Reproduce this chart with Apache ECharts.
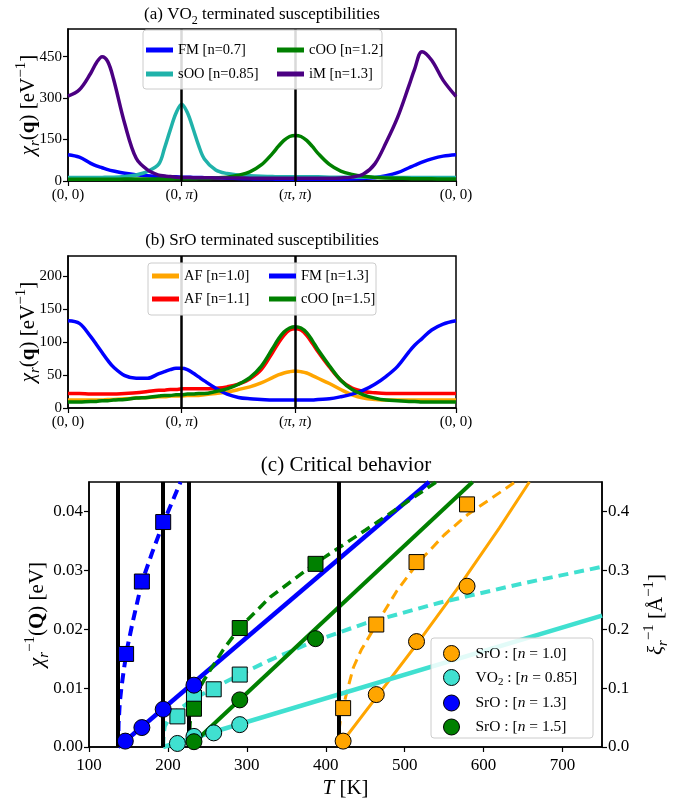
<!DOCTYPE html>
<html>
<head>
<meta charset="utf-8">
<script src="https://cdn.jsdelivr.net/npm/echarts@6/dist/echarts.min.js"></script>
<style>
  html, body { margin: 0; background: #fff; }
  #main { width: 689px; height: 804px; }
</style>
</head>
<body>
<div id="main"></div>
<script>
const F = 'Liberation Serif';

// k-path positions: (0,0) -> (0,pi) -> (pi,pi) -> (0,0), segment lengths 1, 1, sqrt(2)
const kPath = [0, 0.1, 0.2, 0.25, 0.3, 0.35, 0.4, 0.5, 0.6, 0.7, 0.8, 0.85, 0.9, 0.95,
  1.0, 1.05, 1.1, 1.15, 1.2, 1.3, 1.4, 1.5, 1.6, 1.7, 1.8, 1.85, 1.9, 1.95,
  2.0, 2.05, 2.1, 2.15, 2.2, 2.3, 2.4, 2.5, 2.6, 2.7, 2.8, 2.9, 3.0, 3.05, 3.115, 3.2, 3.3, 3.414];
const kTicks = [0, 1, 2, 3.414];
const kLabels = ['(0, 0)', '(0, π)', '(π, π)', '(0, 0)'];

// (a) VO2 terminated
const vo2FM  = [95, 86, 64, 55, 48, 41, 36, 28, 23, 19, 17, 16, 15, 15, 14, 14, 13, 13, 12, 11, 10, 9, 8, 7, 7, 6, 6, 6,
  6, 6, 6, 6, 6, 6, 6, 7, 9, 12, 19, 30, 48, 57, 68, 80, 90, 95];
const vo2sOO = [13, 13, 13, 13, 13, 14, 14, 16, 22, 35, 62, 120, 185, 245, 278, 248, 190, 128, 80, 40, 27, 22, 19, 17, 16, 15, 15, 15,
  15, 15, 15, 15, 15, 14, 14, 14, 14, 14, 13, 13, 13, 13, 13, 13, 13, 13];
const vo2cOO = [6, 6, 6, 6, 6, 6, 6, 7, 7, 7, 7, 7, 7, 8, 8, 8, 8, 9, 9, 11, 14, 21, 33, 58, 100, 125, 147, 161,
  165, 161, 147, 125, 100, 60, 36, 24, 17, 13, 11, 10, 9, 8, 8, 8, 7, 7];
const vo2iM  = [307, 330, 390, 428, 450, 432, 370, 206, 82, 40, 21, 18, 16, 14, 13, 13, 12, 12, 12, 11, 11, 11, 10, 10, 10, 10, 10, 10,
  10, 10, 10, 10, 10, 10, 11, 14, 25, 62, 140, 230, 345, 405, 468, 437, 365, 306];

// (b) SrO terminated
const srAF10 = [12, 12, 12, 12, 12, 13, 13, 14, 15, 16, 17, 17, 18, 18, 18, 19, 19, 19, 20, 22, 24, 28, 32, 38, 46, 50, 53, 55,
  56, 55, 53, 49, 45, 37, 28, 20, 15, 13, 12, 12, 12, 12, 12, 12, 12, 12];
const srAF11 = [22, 22, 21, 21, 21, 21, 21, 22, 23, 25, 27, 27, 28, 28, 29, 29, 29, 29, 29, 30, 32, 36, 44, 58, 84, 98, 110, 118,
  120, 118, 110, 98, 85, 62, 42, 30, 25, 23, 22, 22, 22, 22, 22, 22, 22, 22];
const srFM   = [132, 128, 108, 96, 84, 72, 62, 49, 45, 45, 52, 55, 58, 60, 60, 58, 53, 47, 41, 30, 21, 16, 14, 13, 12, 12, 12, 12,
  12, 12, 12, 12, 13, 14, 17, 21, 27, 36, 48, 63, 85, 95, 105, 118, 127, 132];
const srCOO  = [9, 9, 10, 10, 11, 11, 12, 13, 15, 16, 18, 19, 19, 20, 20, 21, 21, 22, 22, 25, 29, 36, 46, 63, 90, 104, 115, 121,
  123, 121, 114, 102, 88, 64, 42, 28, 20, 15, 12, 11, 10, 10, 9, 9, 9, 9];

// (c) critical behaviour: transition temperatures, points and fits
const tcLines = [137, 194, 227, 416];

const sr10T = [422, 464, 515, 579];
const sr10Chi = [0.0010, 0.0089, 0.0179, 0.0273];
const sr10Xi = [0.066, 0.208, 0.314, 0.412];
const sr10ChiFitT = [416, 470, 520, 570, 620, 658];
const sr10ChiFit = [0, 0.0095, 0.0183, 0.0275, 0.0372, 0.045];
const sr10XiFitT = [416, 417, 419, 422, 428, 435, 445, 464, 490, 515, 550, 580, 640];
const sr10XiFit = [0, 0.03, 0.05, 0.068, 0.1, 0.135, 0.165, 0.208, 0.265, 0.31, 0.36, 0.395, 0.45];

const vo2T = [212, 233, 258, 291];
const vo2Chi = [0.0006, 0.0018, 0.0024, 0.0038];
const vo2Xi = [0.052, 0.084, 0.098, 0.123];
const vo2ChiFitT = [194, 750];
const vo2ChiFit = [0, 0.0223];
const vo2XiFitT = [194, 194.5, 196, 200, 212, 233, 258, 291, 330, 386, 450, 544, 650, 750];
const vo2XiFit = [0, 0.02, 0.035, 0.045, 0.062, 0.082, 0.1, 0.123, 0.148, 0.18, 0.21, 0.245, 0.278, 0.306];

const sr13T = [146, 167, 194, 233];
const sr13Chi = [0.0010, 0.0033, 0.0064, 0.0105];
const sr13XiT = [147, 167, 194];
const sr13Xi = [0.158, 0.281, 0.382];
const sr13ChiFitT = [137, 531];
const sr13ChiFit = [0, 0.045];
const sr13XiFitT = [137, 137.5, 139, 141, 144, 148, 155, 167, 180, 194, 205, 216];
const sr13XiFit = [0, 0.04, 0.075, 0.1, 0.13, 0.165, 0.21, 0.28, 0.33, 0.38, 0.415, 0.45];

const sr15T = [233, 291, 387];
const sr15Chi = [0.0009, 0.0080, 0.0184];
const sr15Xi = [0.065, 0.202, 0.311];
const sr15ChiFitT = [227, 586];
const sr15ChiFit = [0, 0.045];
const sr15XiFitT = [227, 228, 231, 236, 245, 252, 270, 291, 330, 387, 450, 540];
const sr15XiFit = [0, 0.04, 0.07, 0.09, 0.112, 0.127, 0.165, 0.203, 0.255, 0.312, 0.368, 0.45];

const zip = (xs, ys) => xs.map((x, i) => [x, ys[i]]);

// rich text styles; titles use size 17, axis names size 21
function richSet(size) {
  const sub = Math.round(size * 0.7);
  const lh = Math.round(size * 1.4);
  return {
    n: {fontFamily: F, fontSize: size, color: '#000', lineHeight: lh},
    i: {fontFamily: F, fontSize: size, color: '#000', fontStyle: 'italic', lineHeight: lh},
    b: {fontFamily: F, fontSize: size, color: '#000', fontWeight: 'bold', lineHeight: lh},
    sb: {fontFamily: F, fontSize: sub, color: '#000', fontStyle: 'italic', lineHeight: sub, verticalAlign: 'bottom'},
    s2: {fontFamily: F, fontSize: sub, color: '#000', lineHeight: sub, verticalAlign: 'bottom'},
    sp: {fontFamily: F, fontSize: sub, color: '#000', lineHeight: sub, verticalAlign: 'top'}
  };
}
const richTitle = richSet(17);
const richBig = richSet(21);
const richTick = {
  pi: {fontFamily: F, fontSize: 15, color: '#000', fontStyle: 'italic'},
  t: {fontFamily: F, fontSize: 15, color: '#000'}
};

function ax(o) {
  return Object.assign({nameMoveOverlap: false}, o, {
    axisLine: Object.assign({show: true, onZero: false, lineStyle: {color: '#000', width: 1.5}}, o.axisLine),
    axisTick: Object.assign({show: true, length: 5, lineStyle: {color: '#000', width: 1.2}}, o.axisTick),
    axisLabel: Object.assign({color: '#000', fontFamily: F, fontSize: 15, margin: 6}, o.axisLabel),
    splitLine: {show: false}
  });
}

function kFormatter(v) {
  let idx = 0;
  kTicks.forEach((t, i) => { if (Math.abs(t - v) < Math.abs(kTicks[idx] - v)) idx = i; });
  return '{t|' + kLabels[idx].split('π').join('}{pi|π}{t|') + '}';
}

function curve(name, ai, kv, color) {
  return {
    name: name, type: 'line', xAxisIndex: ai, yAxisIndex: ai,
    data: zip(kPath, kv), showSymbol: false, smooth: 0.35,
    lineStyle: {color: color, width: 3.5}, itemStyle: {color: color}, z: 3
  };
}

function vLines(xi, yi, xs, width) {
  return {
    type: 'line', xAxisIndex: xi, yAxisIndex: yi, data: [], z: 4, silent: true,
    markLine: {
      silent: true, symbol: 'none', label: {show: false}, animation: false,
      lineStyle: {color: '#000', width: width, type: 'solid'},
      data: xs.map(x => ({xAxis: x}))
    }
  };
}

function fit(T, v, color, dashed, width, yi) {
  return {
    type: 'line', xAxisIndex: 2, yAxisIndex: yi, data: zip(T, v), showSymbol: false,
    lineStyle: {color: color, width: width, type: dashed ? [10, 6] : 'solid'}, z: 3, silent: true
  };
}

function pts(name, T, v, color, symbol, yi) {
  return {
    name: name, type: 'scatter', xAxisIndex: 2, yAxisIndex: yi, data: zip(T, v),
    symbol: symbol, symbolSize: symbol === 'circle' ? 16 : 15,
    itemStyle: {color: color, borderColor: '#000', borderWidth: 1, opacity: 1}, z: 10
  };
}

const ORANGE = '#FFA500', TURQ = '#40E0D0', BLUE = '#0000FF', GREEN = '#008000';

const legendC = {
  'SrO n=1.0': '{a|SrO : [}{ii|n}{a| = 1.0]}',
  'VO2 n=0.85': '{a|VO}{s|2}{a| : [}{ii|n}{a| = 0.85]}',
  'SrO n=1.3': '{a|SrO : [}{ii|n}{a| = 1.3]}',
  'SrO n=1.5': '{a|SrO : [}{ii|n}{a| = 1.5]}'
};

const legendText = {color: '#000', fontFamily: F, fontSize: 14.5, lineHeight: 18};
const gridBase = {show: true, borderColor: '#000', borderWidth: 1.5, containLabel: false, outerBoundsMode: 'none'};

const option = {
  animation: false,
  backgroundColor: '#fff',
  grid: [
    Object.assign({left: 68, top: 29, width: 388, height: 152}, gridBase),
    Object.assign({left: 68, top: 256, width: 388, height: 152}, gridBase),
    Object.assign({left: 89, top: 482, width: 513, height: 265}, gridBase)
  ],
  xAxis: [
    ax({gridIndex: 0, type: 'value', min: 0, max: 3.414,
      axisTick: {customValues: kTicks}, axisLabel: {customValues: kTicks, formatter: kFormatter, rich: richTick, margin: 7}}),
    ax({gridIndex: 1, type: 'value', min: 0, max: 3.414,
      axisTick: {customValues: kTicks}, axisLabel: {customValues: kTicks, formatter: kFormatter, rich: richTick, margin: 7}}),
    ax({gridIndex: 2, type: 'value', min: 100, max: 750,
      axisTick: {customValues: [100, 200, 300, 400, 500, 600, 700]},
      axisLabel: {customValues: [100, 200, 300, 400, 500, 600, 700], margin: 10, fontSize: 17},
      name: '{i|T}{n| [K]}', nameLocation: 'middle', nameGap: 27, nameTextStyle: {rich: richBig}})
  ],
  yAxis: [
    ax({gridIndex: 0, type: 'value', min: 0, max: 550,
      axisTick: {customValues: [0, 150, 300, 450]}, axisLabel: {customValues: [0, 150, 300, 450]},
      name: '{i|χ}{sb|r}{n|(}{b|q}{n|) [eV}{sp|−1}{n|]}', nameLocation: 'middle', nameGap: 25, nameRotate: 90,
      nameTextStyle: {rich: richBig}}),
    ax({gridIndex: 1, type: 'value', min: 0, max: 230,
      axisTick: {customValues: [0, 50, 100, 150, 200]}, axisLabel: {customValues: [0, 50, 100, 150, 200]},
      name: '{i|χ}{sb|r}{n|(}{b|q}{n|) [eV}{sp|−1}{n|]}', nameLocation: 'middle', nameGap: 25, nameRotate: 90,
      nameTextStyle: {rich: richBig}}),
    ax({gridIndex: 2, type: 'value', min: 0, max: 0.045,
      axisTick: {customValues: [0, 0.01, 0.02, 0.03, 0.04]},
      axisLabel: {customValues: [0, 0.01, 0.02, 0.03, 0.04], formatter: v => v.toFixed(2), fontSize: 17},
      name: '{i|χ}{sb|r}{sp|−1}{n|(}{b|Q}{n|) [eV]}', nameLocation: 'middle', nameGap: 37, nameRotate: 90,
      nameTextStyle: {rich: richBig}}),
    ax({gridIndex: 2, type: 'value', position: 'right', min: 0, max: 0.45,
      axisTick: {customValues: [0, 0.1, 0.2, 0.3, 0.4]},
      axisLabel: {customValues: [0, 0.1, 0.2, 0.3, 0.4], formatter: v => v.toFixed(1), fontSize: 17},
      name: '{i|ξ}{sb|r}{sp|−1}{n| [Å}{sp|−1}{n|]}', nameLocation: 'middle', nameGap: 40, nameRotate: 90,
      nameTextStyle: {rich: richBig}})
  ],
  legend: [
    {data: ['FM [n=0.7]', 'sOO [n=0.85]'], left: 141, top: 36, orient: 'vertical', icon: 'rect',
      itemWidth: 27, itemHeight: 5, itemGap: 6, textStyle: legendText, z: 60},
    {data: ['cOO [n=1.2]', 'iM [n=1.3]'], left: 272, top: 36, orient: 'vertical', icon: 'rect',
      itemWidth: 27, itemHeight: 5, itemGap: 6, textStyle: legendText, z: 60},
    {data: ['AF [n=1.0]', 'AF [n=1.1]'], left: 147, top: 262, orient: 'vertical', icon: 'rect',
      itemWidth: 27, itemHeight: 5, itemGap: 5, textStyle: legendText, z: 60},
    {data: ['FM [n=1.3]', 'cOO [n=1.5]'], left: 264, top: 262, orient: 'vertical', icon: 'rect',
      itemWidth: 27, itemHeight: 5, itemGap: 5, textStyle: legendText, z: 60},
    {data: Object.keys(legendC).map(n => ({name: n, itemStyle: {borderColor: '#000', borderWidth: 1}})),
      left: 438, top: 640, orient: 'vertical', icon: 'circle', itemWidth: 38, itemHeight: 16, itemGap: 7,
      formatter: n => legendC[n],
      textStyle: {rich: {
        a: {fontFamily: F, fontSize: 15.5, color: '#000', lineHeight: 20},
        ii: {fontFamily: F, fontSize: 15.5, color: '#000', fontStyle: 'italic', lineHeight: 20},
        s: {fontFamily: F, fontSize: 11, color: '#000', lineHeight: 11, verticalAlign: 'bottom'}
      }}, z: 60}
  ],
  graphic: [
    {type: 'rect', shape: {x: 143, y: 30, width: 239, height: 59, r: 3}, z: 50,
      style: {fill: 'rgba(255,255,255,0.85)', stroke: '#cccccc', lineWidth: 1}},
    {type: 'rect', shape: {x: 148, y: 263, width: 228, height: 52, r: 3}, z: 50,
      style: {fill: 'rgba(255,255,255,0.85)', stroke: '#cccccc', lineWidth: 1}},
    {type: 'rect', shape: {x: 431, y: 638, width: 162, height: 100, r: 3}, z: 50,
      style: {fill: 'rgba(255,255,255,0.85)', stroke: '#cccccc', lineWidth: 1}},
    {type: 'text', x: 262, y: 15, z: 50,
      style: {text: '{n|(a) VO}{s2|2}{n| terminated susceptibilities}', align: 'center', verticalAlign: 'middle', rich: richTitle}},
    {type: 'text', x: 262, y: 241, z: 50,
      style: {text: '{n|(b) SrO terminated susceptibilities}', align: 'center', verticalAlign: 'middle', rich: richTitle}},
    {type: 'text', x: 346, y: 465, z: 50,
      style: {text: '{n|(c) Critical behavior}', align: 'center', verticalAlign: 'middle', rich: richBig}}
  ],
  series: [
    curve('FM [n=0.7]', 0, vo2FM, BLUE),
    curve('sOO [n=0.85]', 0, vo2sOO, '#20B2AA'),
    curve('cOO [n=1.2]', 0, vo2cOO, GREEN),
    curve('iM [n=1.3]', 0, vo2iM, '#4B0082'),
    vLines(0, 0, [1, 2], 2.5),

    curve('AF [n=1.0]', 1, srAF10, ORANGE),
    curve('AF [n=1.1]', 1, srAF11, '#FF0000'),
    curve('FM [n=1.3]', 1, srFM, BLUE),
    curve('cOO [n=1.5]', 1, srCOO, GREEN),
    vLines(1, 1, [1, 2], 2.5),

    vLines(2, 2, tcLines, 4),
    fit(sr10ChiFitT, sr10ChiFit, ORANGE, false, 3, 2),
    fit(sr10XiFitT, sr10XiFit, ORANGE, true, 3, 3),
    fit(vo2ChiFitT, vo2ChiFit, TURQ, false, 4.5, 2),
    fit(vo2XiFitT, vo2XiFit, TURQ, true, 4, 3),
    fit(sr13ChiFitT, sr13ChiFit, BLUE, false, 4.5, 2),
    fit(sr13XiFitT, sr13XiFit, BLUE, true, 4, 3),
    fit(sr15ChiFitT, sr15ChiFit, GREEN, false, 4, 2),
    fit(sr15XiFitT, sr15XiFit, GREEN, true, 3.5, 3),
    pts('SrO n=1.0', sr10T, sr10Chi, ORANGE, 'circle', 2),
    pts('SrO n=1.0 xi', sr10T, sr10Xi, ORANGE, 'rect', 3),
    pts('VO2 n=0.85', vo2T, vo2Chi, TURQ, 'circle', 2),
    pts('VO2 n=0.85 xi', vo2T, vo2Xi, TURQ, 'rect', 3),
    pts('SrO n=1.3', sr13T, sr13Chi, BLUE, 'circle', 2),
    pts('SrO n=1.3 xi', sr13XiT, sr13Xi, BLUE, 'rect', 3),
    pts('SrO n=1.5', sr15T, sr15Chi, GREEN, 'circle', 2),
    pts('SrO n=1.5 xi', sr15T, sr15Xi, GREEN, 'rect', 3)
  ]
};

const chart = echarts.init(document.getElementById('main'));
chart.setOption(option);
</script>
</body>
</html>
